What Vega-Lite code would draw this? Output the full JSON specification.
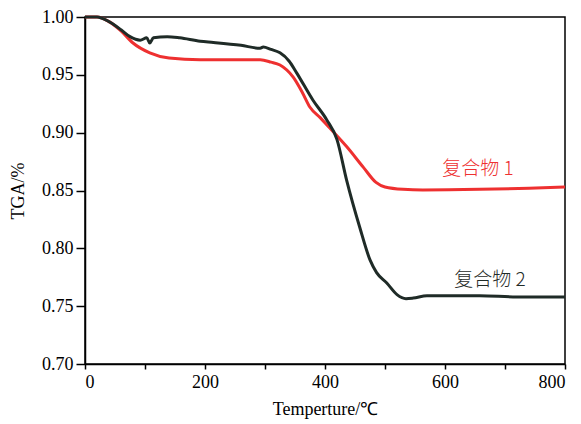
{
  "$schema": "https://vega.github.io/schema/vega-lite/v6.json",
  "width": 480,
  "height": 347,
  "autosize": {"type": "none"},
  "padding": {"left": 85, "top": 17, "right": 16, "bottom": 60},
  "config": {
    "view": {"stroke": "#000", "strokeWidth": 1.5},
    "font": "Liberation Serif",
    "axis": {"grid": false, "domainColor": "#000", "domainWidth": 1.5, "tickColor": "#000", "tickWidth": 1.5, "labelFont": "Liberation Serif", "titleFont": "Liberation Serif", "labelFontSize": 18, "titleFontSize": 18, "titleFontWeight": "normal", "labelColor": "#000", "titleColor": "#000"}
  },
  "datasets": {
    "curves": [
      {"s": "1", "T": 0, "v": 1.0},
      {"s": "1", "T": 20, "v": 1.0},
      {"s": "1", "T": 40, "v": 0.996},
      {"s": "1", "T": 60, "v": 0.988},
      {"s": "1", "T": 80, "v": 0.9775},
      {"s": "1", "T": 108, "v": 0.969},
      {"s": "1", "T": 140, "v": 0.9645},
      {"s": "1", "T": 192, "v": 0.963},
      {"s": "1", "T": 250, "v": 0.963},
      {"s": "1", "T": 292, "v": 0.963},
      {"s": "1", "T": 310, "v": 0.961},
      {"s": "1", "T": 325, "v": 0.9585},
      {"s": "1", "T": 347, "v": 0.948},
      {"s": "1", "T": 362, "v": 0.935},
      {"s": "1", "T": 375, "v": 0.922},
      {"s": "1", "T": 392, "v": 0.913},
      {"s": "1", "T": 408, "v": 0.904},
      {"s": "1", "T": 436, "v": 0.888},
      {"s": "1", "T": 464, "v": 0.87},
      {"s": "1", "T": 485, "v": 0.857},
      {"s": "1", "T": 500, "v": 0.853},
      {"s": "1", "T": 530, "v": 0.851},
      {"s": "1", "T": 563, "v": 0.8505},
      {"s": "1", "T": 658, "v": 0.851},
      {"s": "1", "T": 740, "v": 0.852},
      {"s": "1", "T": 800, "v": 0.853},
      {"s": "2", "T": 0, "v": 1.0},
      {"s": "2", "T": 20, "v": 1.0},
      {"s": "2", "T": 40, "v": 0.996},
      {"s": "2", "T": 60, "v": 0.989},
      {"s": "2", "T": 75, "v": 0.983},
      {"s": "2", "T": 92, "v": 0.980},
      {"s": "2", "T": 103, "v": 0.982},
      {"s": "2", "T": 108, "v": 0.9775},
      {"s": "2", "T": 114, "v": 0.982},
      {"s": "2", "T": 137, "v": 0.983},
      {"s": "2", "T": 158, "v": 0.982},
      {"s": "2", "T": 192, "v": 0.979},
      {"s": "2", "T": 214, "v": 0.978},
      {"s": "2", "T": 260, "v": 0.9755},
      {"s": "2", "T": 292, "v": 0.973},
      {"s": "2", "T": 297, "v": 0.974},
      {"s": "2", "T": 310, "v": 0.972},
      {"s": "2", "T": 325, "v": 0.969},
      {"s": "2", "T": 340, "v": 0.962},
      {"s": "2", "T": 353, "v": 0.9515},
      {"s": "2", "T": 380, "v": 0.928},
      {"s": "2", "T": 403, "v": 0.911},
      {"s": "2", "T": 420, "v": 0.894},
      {"s": "2", "T": 436, "v": 0.859},
      {"s": "2", "T": 458, "v": 0.818},
      {"s": "2", "T": 475, "v": 0.79},
      {"s": "2", "T": 486, "v": 0.779},
      {"s": "2", "T": 503, "v": 0.77},
      {"s": "2", "T": 520, "v": 0.76},
      {"s": "2", "T": 535, "v": 0.7565},
      {"s": "2", "T": 547, "v": 0.757},
      {"s": "2", "T": 570, "v": 0.759},
      {"s": "2", "T": 620, "v": 0.759},
      {"s": "2", "T": 658, "v": 0.759},
      {"s": "2", "T": 720, "v": 0.758},
      {"s": "2", "T": 800, "v": 0.758}
    ],
    "labels": [
      {"s": "1", "T": 655, "v": 0.869, "text": "复合物  1"},
      {"s": "2", "T": 675, "v": 0.773, "text": "复合物  2"}
    ]
  },
  "layer": [
    {
      "data": {"name": "curves"},
      "mark": {"type": "line", "strokeWidth": 3, "interpolate": "monotone"},
      "encoding": {
        "x": {"field": "T", "type": "quantitative", "scale": {"domain": [0, 800], "nice": false}, "axis": {"title": "Temperture/℃", "values": [0, 100, 200, 300, 400, 500, 600, 700, 800], "labelExpr": "datum.value % 200 === 0 ? datum.label : ''", "labelFont": "Liberation Serif", "titleFont": "Liberation Serif", "tickSize": 5, "labelPadding": 4, "titlePadding": 9}},
        "y": {"field": "v", "type": "quantitative", "scale": {"domain": [0.7, 1.0], "nice": false, "zero": false}, "axis": {"title": "TGA/%", "values": [0.7, 0.725, 0.75, 0.775, 0.8, 0.825, 0.85, 0.875, 0.9, 0.925, 0.95, 0.975, 1.0], "labelExpr": "round(datum.value * 1000) % 50 === 0 ? format(datum.value, '.2f') : ''", "labelFont": "Liberation Serif", "titleFont": "Liberation Serif", "tickSize": 9, "labelPadding": 3, "titlePadding": 14}},
        "color": {"field": "s", "type": "nominal", "scale": {"domain": ["1", "2"], "range": ["#ee3030", "#1f2b27"]}, "legend": null}
      }
    },
    {
      "data": {"name": "labels"},
      "mark": {"type": "text", "font": "Noto Sans CJK SC", "fontSize": 19, "fontWeight": 300, "align": "center", "baseline": "middle"},
      "encoding": {
        "x": {"field": "T", "type": "quantitative"},
        "y": {"field": "v", "type": "quantitative"},
        "text": {"field": "text"},
        "color": {"field": "s", "type": "nominal", "scale": {"domain": ["1", "2"], "range": ["#ee3030", "#1f2b27"]}, "legend": null}
      }
    }
  ]
}
